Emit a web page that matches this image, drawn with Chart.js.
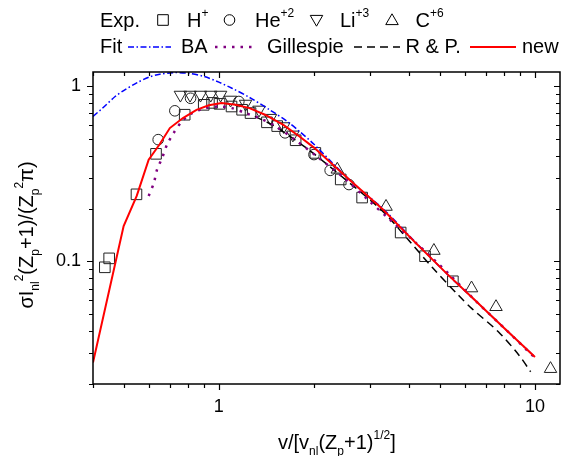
<!DOCTYPE html>
<html><head><meta charset="utf-8">
<script src="https://cdn.jsdelivr.net/npm/chart.js@4.4.1/dist/chart.umd.min.js"></script>
<style>html,body{margin:0;padding:0;background:#fff}</style>
</head><body>
<canvas id="c" width="572" height="456"></canvas>
<script>
// ---- tick labels ----
const xTickLabels = [1, 10];
const yTickLabels = [0.1, 1];

// ---- curves ----
const baX = [0.4, 0.43, 0.47, 0.5, 0.55, 0.6, 0.65, 0.72, 0.8, 0.9, 1.0, 1.1, 1.25, 1.45, 1.65, 1.8, 2.0, 2.3, 2.7, 3.3, 4.2, 5.3, 6.5, 8.0, 10];
const baY = [0.67, 0.75, 0.87, 0.94, 1.04, 1.12, 1.165, 1.19, 1.18, 1.13, 1.05, 0.97, 0.86, 0.73, 0.625, 0.55, 0.465, 0.36, 0.272, 0.2, 0.128, 0.084, 0.0594, 0.0416, 0.0285];

const gilX = [0.6, 0.623, 0.638, 0.662, 0.686, 0.72, 0.765, 0.823, 0.908, 1.0, 1.1, 1.215, 1.34, 1.51, 1.75, 2.07, 2.52, 2.95, 3.5, 4.19, 5.34, 6.5, 8.0, 10];
const gilY = [0.236, 0.28, 0.334, 0.389, 0.463, 0.54, 0.628, 0.70, 0.747, 0.763, 0.747, 0.70, 0.656, 0.59, 0.49, 0.389, 0.293, 0.226, 0.171, 0.128, 0.0848, 0.0594, 0.0416, 0.0282];

const rpX = [1.3, 1.5, 1.75, 2.0, 2.5, 3.29, 4.0, 4.73, 5.74, 6.33, 7.67, 8.9, 9.69];
const rpY = [0.67, 0.59, 0.49, 0.41, 0.295, 0.194, 0.131, 0.0925, 0.0638, 0.0536, 0.0396, 0.0292, 0.0235];

const newX = [0.4, 0.5, 0.55, 0.6, 0.65, 0.7, 0.77, 0.85, 0.93, 1.02, 1.13, 1.25, 1.4, 1.6, 1.8, 2.0, 2.6, 3.3, 4.2, 5.3, 6.5, 8.0, 10];
const newY = [0.0265, 0.159, 0.236, 0.38, 0.465, 0.575, 0.656, 0.73, 0.775, 0.80, 0.78, 0.747, 0.685, 0.60, 0.515, 0.445, 0.29, 0.198, 0.127, 0.084, 0.0594, 0.0416, 0.0285];

// ---- experiment ----
const hX = [0.436, 0.45, 0.549, 0.633, 0.78, 0.896, 0.952, 1.005, 1.097, 1.185, 1.26, 1.42, 1.53, 1.75, 2.02, 2.43, 2.84, 3.76, 4.49, 5.5];
const hY = [0.0925, 0.104, 0.241, 0.41, 0.685, 0.78, 0.80, 0.79, 0.763, 0.731, 0.70, 0.62, 0.59, 0.49, 0.415, 0.293, 0.231, 0.146, 0.107, 0.077];

const heX = [0.643, 0.726, 0.814, 1.157, 1.62, 2.0, 2.25, 2.58];
const heY = [0.494, 0.721, 0.85, 0.815, 0.54, 0.406, 0.33, 0.274];

const liX = [0.756, 0.811, 0.875, 0.943, 1.013, 1.089, 1.215, 1.34, 1.457, 1.605, 1.715];
const liY = [0.889, 0.889, 0.889, 0.889, 0.889, 0.833, 0.79, 0.731, 0.656, 0.588, 0.527];

const cX = [2.37, 3.38, 4.79, 6.3, 7.53, 11.2];
const cY = [0.334, 0.205, 0.115, 0.0703, 0.055, 0.0244];

const pts = (xs, ys) => xs.map((x, i) => ({x: x, y: ys[i]}));
const FONT = '"Liberation Sans", Arial, sans-serif';
const MK = {rect: 7.5, circle: 5.3, tri: 7.2};

function labelFor(list) {
  return function (v) {
    const m = list.find(l => Math.abs(l - v) / l < 1e-6);
    return m !== undefined ? String(m) : '';
  };
}

function drawRich(ctx, parts, x, y, size) {
  let cx = x;
  for (const p of parts) {
    const fs = p.s ? Math.round(size * 0.6) : size;
    ctx.font = fs + 'px ' + FONT;
    const dy = p.s === 'sub' ? size * 0.3 : (p.s === 'sup' ? -size * 0.5 : 0);
    ctx.fillText(p.t, cx, y + dy);
    cx += ctx.measureText(p.t).width;
  }
  return cx - x;
}
function measureRich(ctx, parts, size) {
  let w = 0;
  for (const p of parts) {
    const fs = p.s ? Math.round(size * 0.6) : size;
    ctx.font = fs + 'px ' + FONT;
    w += ctx.measureText(p.t).width;
  }
  return w;
}

function marker(ctx, style, x, y, r, rot) {
  ctx.beginPath();
  if (style === 'rect') {
    const s = r * Math.SQRT1_2;
    ctx.rect(x - s, y - s, 2 * s, 2 * s);
  } else if (style === 'circle') {
    ctx.arc(x, y, r, 0, Math.PI * 2);
  } else {
    let a = rot ? Math.PI : 0;
    ctx.moveTo(x + Math.sin(a) * r, y - Math.cos(a) * r);
    a += 2 * Math.PI / 3;
    ctx.lineTo(x + Math.sin(a) * r, y - Math.cos(a) * r);
    a += 2 * Math.PI / 3;
    ctx.lineTo(x + Math.sin(a) * r, y - Math.cos(a) * r);
    ctx.closePath();
  }
  ctx.stroke();
}

const frame = {
  id: 'frame',
  afterDraw(chart) {
    const {ctx, chartArea: a, scales} = chart;
    const xs = scales.x, ys = scales.y;
    ctx.save();
    ctx.strokeStyle = '#000';
    ctx.lineWidth = 1.5;
    ctx.strokeRect(a.left, a.top, a.right - a.left, a.bottom - a.top);
    ctx.lineWidth = 1.2;
    const each = (min, max, fn) => {
      for (let e = Math.floor(Math.log10(min)); e <= Math.ceil(Math.log10(max)); e++) {
        for (let s = 1; s <= 9; s++) {
          const v = s * Math.pow(10, e);
          if (v >= min * 0.999 && v <= max * 1.001) fn(v, s === 1);
        }
      }
    };
    ctx.beginPath();
    each(xs.min, xs.max, (v, major) => {
      const px = Math.round(xs.getPixelForValue(v)) + 0.5;
      const L = major ? 6 : 4;
      ctx.moveTo(px, a.bottom); ctx.lineTo(px, a.bottom + L);
      ctx.moveTo(px, a.top); ctx.lineTo(px, a.top + L);
    });
    each(ys.min, ys.max, (v, major) => {
      const py = Math.round(ys.getPixelForValue(v)) + 0.5;
      const L = major ? 6 : 4;
      ctx.moveTo(a.left, py); ctx.lineTo(a.left - L, py);
      ctx.moveTo(a.right, py); ctx.lineTo(a.right - L, py);
    });
    ctx.stroke();

    // axis titles
    ctx.fillStyle = '#000';
    ctx.textBaseline = 'alphabetic';
    ctx.textAlign = 'left';
    const xt = [{t: 'v/[v'}, {t: 'nl', s: 'sub'}, {t: '(Z'}, {t: 'p', s: 'sub'}, {t: '+1)'}, {t: '1/2', s: 'sup'}, {t: ']'}];
    drawRich(ctx, xt, 278, 449, 20);
    const yt = [{t: 'σI'}, {t: 'nl', s: 'sub'}, {t: '2', s: 'sup'}, {t: '(Z'}, {t: 'p', s: 'sub'}, {t: '+1)/(Z'}, {t: 'p', s: 'sub'}, {t: '2', s: 'sup'}, {t: 'π)'}];
    const yw = measureRich(ctx, yt, 20);
    ctx.save();
    ctx.translate(33, 235);
    ctx.rotate(-Math.PI / 2);
    drawRich(ctx, yt, -yw / 2, 0, 20);
    ctx.restore();

    // legend row 1
    const r1 = 27, r2 = 53;
    drawRich(ctx, [{t: 'Exp.'}], 100, r1, 20);
    ctx.strokeStyle = '#000'; ctx.lineWidth = 1;
    marker(ctx, 'rect', 163, 20, MK.rect);
    drawRich(ctx, [{t: 'H'}, {t: '+', s: 'sup'}], 187, r1, 20);
    marker(ctx, 'circle', 229.5, 20, MK.circle);
    drawRich(ctx, [{t: 'He'}, {t: '+2', s: 'sup'}], 255, r1, 20);
    marker(ctx, 'triangle', 316.5, 19, MK.tri, true);
    drawRich(ctx, [{t: 'Li'}, {t: '+3', s: 'sup'}], 340, r1, 20);
    marker(ctx, 'triangle', 392, 21, MK.tri, false);
    drawRich(ctx, [{t: 'C'}, {t: '+6', s: 'sup'}], 415.5, r1, 20);

    // legend row 2
    drawRich(ctx, [{t: 'Fit'}], 100, r2, 20);
    const seg = (x1, x2, color, w, dash) => {
      ctx.save();
      ctx.strokeStyle = color; ctx.lineWidth = w; ctx.setLineDash(dash);
      ctx.beginPath(); ctx.moveTo(x1, 47); ctx.lineTo(x2, 47); ctx.stroke();
      ctx.restore();
    };
    seg(128, 171, '#0000ff', 1.5, [6, 2.5, 1.5, 2.5]);
    drawRich(ctx, [{t: 'BA'}], 181, r2, 20);
    seg(215, 256, '#800080', 2.5, [2.5, 6]);
    drawRich(ctx, [{t: 'Gillespie'}], 267, r2, 20);
    seg(354, 400, '#000000', 1.5, [8, 5]);
    drawRich(ctx, [{t: 'R & P.'}], 405.5, r2, 20);
    seg(470, 516, '#ff0000', 2, []);
    drawRich(ctx, [{t: 'new'}], 522, r2, 20);
    ctx.restore();
  }
};

const markerDs = (label, xs, ys, style, rot, r, order) => ({
  label: label, data: pts(xs, ys), showLine: false,
  pointStyle: style, pointRotation: rot, pointRadius: r,
  pointBorderColor: '#222', pointBackgroundColor: 'rgba(0,0,0,0)', pointBorderWidth: 1,
  order: order
});
const lineDs = (label, xs, ys, color, w, dash, tension, order) => ({
  label: label, data: pts(xs, ys), showLine: true,
  borderColor: color, borderWidth: w, borderDash: dash, tension: tension,
  pointRadius: 0, fill: false, order: order
});

new Chart(document.getElementById('c'), {
  type: 'scatter',
  data: {
    datasets: [
      lineDs('new', newX, newY, '#ff0000', 2, [], 0, 0),
      lineDs('Gillespie', gilX, gilY, '#800080', 2.5, [2.5, 6], 0.3, 1),
      lineDs('R & P.', rpX, rpY, '#000000', 1.5, [8, 5], 0.3, 2),
      lineDs('BA', baX, baY, '#0000ff', 1.5, [6, 2.5, 1.5, 2.5], 0.3, 3),
      markerDs('H+', hX, hY, 'rect', 0, MK.rect, 4),
      markerDs('He+2', heX, heY, 'circle', 0, MK.circle, 5),
      markerDs('Li+3', liX, liY, 'triangle', 180, MK.tri, 6),
      markerDs('C+6', cX, cY, 'triangle', 0, MK.tri, 7)
    ]
  },
  options: {
    responsive: false, animation: false, devicePixelRatio: 1,
    layout: {padding: {top: 72, right: 10, left: 0, bottom: 0}},
    plugins: {legend: {display: false}, tooltip: {enabled: false}},
    scales: {
      x: {
        type: 'logarithmic', min: 0.4, max: 12,
        grid: {display: false, drawTicks: false}, border: {display: false},
        ticks: {autoSkip: false, maxRotation: 0, padding: 12, color: '#000',
          font: {family: FONT, size: 18}, callback: labelFor(xTickLabels)},
        afterFit(s) { s.height = 72; }
      },
      y: {
        type: 'logarithmic', min: 0.02, max: 1.2,
        grid: {display: false, drawTicks: false}, border: {display: false},
        ticks: {autoSkip: false, padding: 12, color: '#000',
          font: {family: FONT, size: 18}, callback: labelFor(yTickLabels)},
        afterFit(s) { s.width = 93; }
      }
    }
  },
  plugins: [frame]
});
</script>
</body></html>
